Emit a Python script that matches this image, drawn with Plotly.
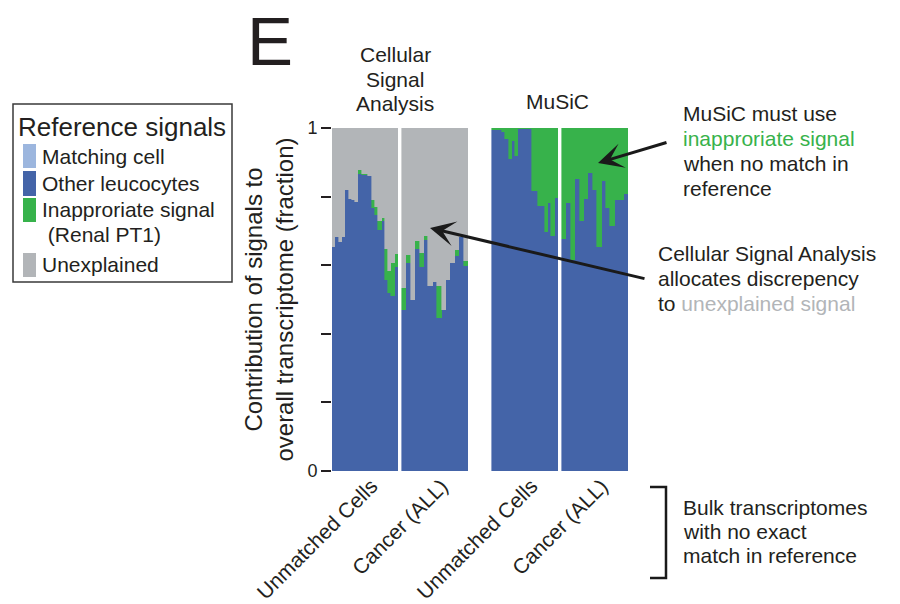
import plotly.graph_objects as go

# ---------------------------------------------------------------------------
# Fraction of each bulk transcriptome attributed to each reference signal
# ---------------------------------------------------------------------------
sample_sets = ["Unmatched Cells", "Cancer (ALL)"]
method_titles = [["Cellular", "Signal", "Analysis"], ["MuSiC"]]

# Cellular Signal Analysis
csa_unmatched_leucocytes = [0.654, 0.683, 0.669, 0.682, 0.818, 0.794, 0.789, 0.783, 0.867, 0.864,
                            0.864, 0.861, 0.768, 0.747, 0.703, 0.730, 0.557, 0.518, 0.511, 0.596]
csa_unmatched_renal = [0.0, 0.0, 0.0, 0.0, 0.0, 0.0, 0.0, 0.0, 0.011, 0.003,
                       0.003, 0.0, 0.023, 0.022, 0.026, 0.008, 0.091, 0.065, 0.095, 0.037]
csa_unmatched_unexplained = [0.346, 0.317, 0.331, 0.318, 0.182, 0.206, 0.211, 0.217, 0.122, 0.133,
                             0.133, 0.139, 0.209, 0.231, 0.271, 0.262, 0.352, 0.417, 0.394, 0.367]

csa_cancer_leucocytes = [0.469, 0.606, 0.499, 0.648, 0.596, 0.674, 0.540, 0.551, 0.447, 0.469,
                         0.557, 0.607, 0.628, 0.682, 0.599]
csa_cancer_renal = [0.066, 0.024, 0.0, 0.023, 0.041, 0.010, 0.0, 0.0, 0.093, 0.0,
                    0.0, 0.0, 0.017, 0.0, 0.014]
csa_cancer_unexplained = [0.465, 0.370, 0.501, 0.329, 0.363, 0.316, 0.460, 0.449, 0.460, 0.531,
                          0.443, 0.393, 0.355, 0.318, 0.387]

# MuSiC (no unexplained component)
music_unmatched_leucocytes = [0.993, 0.993, 0.993, 0.987, 0.968, 0.910, 0.963, 0.917, 0.998, 0.998,
                              0.998, 0.998, 0.815, 0.815, 0.773, 0.773, 0.698, 0.781, 0.686, 0.797]
music_unmatched_renal = [0.007, 0.007, 0.007, 0.013, 0.032, 0.090, 0.037, 0.083, 0.002, 0.002,
                         0.002, 0.002, 0.185, 0.185, 0.227, 0.227, 0.302, 0.219, 0.314, 0.203]

music_cancer_leucocytes = [0.676, 0.781, 0.615, 0.852, 0.730, 0.793, 0.870, 0.820, 0.654, 0.846,
                           0.768, 0.713, 0.791, 0.789, 0.808]
music_cancer_renal = [0.324, 0.219, 0.385, 0.148, 0.270, 0.207, 0.130, 0.180, 0.346, 0.154,
                      0.232, 0.287, 0.209, 0.211, 0.192]

legend_labels = ["Matching cell", "Other leucocytes", "Inapproriate signal", "Unexplained"]
legend_sublabels = ["", "", "(Renal PT1)", ""]

y_tick_values = [0, 0.2, 0.4, 0.6, 0.8, 1]
y_tick_text = ["0", "", "", "", "", "1"]

# ---------------------------------------------------------------------------
# Styling
# ---------------------------------------------------------------------------
LIGHT_BLUE = "#9cb6de"
BLUE = "#4464a8"
GREEN = "#37b24b"
GRAY = "#b2b5b8"
INK = "#231f20"
FONT = "Liberation Sans, Arial, Helvetica, sans-serif"
legend_colors = [LIGHT_BLUE, BLUE, GREEN, GRAY]

FIG_W, FIG_H = 900, 604
M_L, M_R, M_T, M_B = 332, 272, 128, 133
PLOT_W = FIG_W - M_L - M_R
PLOT_H = FIG_H - M_T - M_B

# x axis is measured in screen-like units: each sample group is GROUP_W wide
GROUP_W = 66
PAIR_GAP = 4
METHOD_GAP = 24


def px(xp):
    """page pixel column -> paper x"""
    return (xp - M_L) / PLOT_W


def py(yp):
    """page pixel row -> paper y"""
    return (FIG_H - M_B - yp) / PLOT_H


groups = [
    dict(leuco=csa_unmatched_leucocytes, renal=csa_unmatched_renal, unexpl=csa_unmatched_unexplained),
    dict(leuco=csa_cancer_leucocytes, renal=csa_cancer_renal, unexpl=csa_cancer_unexplained),
    dict(leuco=music_unmatched_leucocytes, renal=music_unmatched_renal, unexpl=None),
    dict(leuco=music_cancer_leucocytes, renal=music_cancer_renal, unexpl=None),
]

# place groups: two sample sets per method, wider gap between methods
start = 0.0
for m in range(2):
    for s in range(2):
        g = groups[m * 2 + s]
        g["start"] = start
        g["label"] = sample_sets[s]
        start += GROUP_W + PAIR_GAP
    start += METHOD_GAP - PAIR_GAP
X_MAX = start - METHOD_GAP

for g in groups:
    n = len(g["leuco"])
    w = GROUP_W / n
    g["x"] = [g["start"] + (i + 0.5) * w for i in range(n)]
    g["w"] = [w] * n
    g["center"] = g["start"] + GROUP_W / 2

fig = go.Figure()


def add_layer(values_key, color, name):
    xs, ws, ys = [], [], []
    for g in groups:
        if g[values_key] is None:
            continue
        xs += g["x"]
        ws += g["w"]
        ys += g[values_key]
    fig.add_trace(go.Bar(
        x=xs, y=ys, width=ws, name=name, showlegend=False,
        marker=dict(color=color, line=dict(color=color, width=0.6)),
    ))


add_layer("leuco", BLUE, "Other leucocytes")
add_layer("renal", GREEN, "Inapproriate signal (Renal PT1)")
add_layer("unexpl", GRAY, "Unexplained")

annotations = []
shapes = []


def text(x, y, s, size=21, color=INK, xanchor="left", **kw):
    annotations.append(dict(
        x=x, y=y, xref="paper", yref="paper", text=s, showarrow=False,
        xanchor=xanchor, yanchor="middle", font=dict(family=FONT, size=size, color=color), **kw))


# panel letter
text(px(270), py(41), "E", size=69, xanchor="center")

# method headings
for i, line in enumerate(method_titles[0]):
    text(px(395), py(55 + 24 * i), line, xanchor="center")
text(px(557), py(101), method_titles[1][0], xanchor="center")

# rotated sample-set labels under each group
for g in groups:
    annotations.append(dict(
        x=g["center"], y=0, xref="x", yref="paper", text=g["label"], showarrow=False,
        textangle=-45, xanchor="right", yanchor="top", xshift=20, yshift=0,
        font=dict(family=FONT, size=21, color=INK)))

# legend box
shapes.append(dict(type="rect", xref="paper", yref="paper",
                   x0=px(13), x1=px(232), y0=py(282), y1=py(104),
                   line=dict(color="#3a3a3a", width=1.5), fillcolor="white", layer="above"))
text(px(16), py(127), "Reference signals", size=26)
swatch_rows = [(144, 168), (171, 196), (198, 222), (253, 277)]
label_rows = [156, 183, 209, 264]
for (top, bot), lab, sub, col, ly in zip(swatch_rows, legend_labels, legend_sublabels, legend_colors, label_rows):
    shapes.append(dict(type="rect", xref="paper", yref="paper",
                       x0=px(23), x1=px(36), y0=py(bot), y1=py(top),
                       line=dict(width=0), fillcolor=col, layer="above"))
    text(px(40), py(ly), lab, size=21)
    if sub:
        text(px(40), py(ly + 25), "\u00a0" + sub, size=21)

# call-outs
text(px(681), py(113), "MuSiC must use")
text(px(681), py(138), "inapproriate signal", color=GREEN)
text(px(681), py(163), "when no match in")
text(px(681), py(188), "reference")

text(px(656), py(253), "Cellular Signal Analysis")
text(px(656), py(278), "allocates discrepency")
text(px(656), py(303), "to <span style='color:%s'>unexplained signal</span>" % GRAY)

# arrows
for tip, tail in [((598, 163), (668, 142)), ((430, 228), (646, 279))]:
    annotations.append(dict(
        x=px(tip[0]), y=py(tip[1]), xref="paper", yref="paper", text="",
        showarrow=True, arrowhead=3, arrowsize=1.4, arrowwidth=3, arrowcolor="#1a1a1a",
        ax=tail[0] - tip[0], ay=tail[1] - tip[1]))

# bracket for the bulk transcriptome groups
shapes.append(dict(type="path", xref="paper", yref="paper",
                   path="M %f %f L %f %f L %f %f L %f %f" % (
                       px(650), py(487), px(666), py(487), px(666), py(578), px(650), py(578)),
                   line=dict(color="#1a1a1a", width=2.5)))
text(px(681), py(507), "Bulk transcriptomes")
text(px(681), py(531), "with no exact")
text(px(681), py(555), "match in reference")

fig.update_layout(
    width=FIG_W, height=FIG_H,
    margin=dict(l=M_L, r=M_R, t=M_T, b=M_B, autoexpand=False),
    paper_bgcolor="white", plot_bgcolor="white",
    barmode="stack", bargap=0,
    font=dict(family=FONT, color=INK),
    showlegend=False,
    xaxis=dict(range=[0, X_MAX], visible=False, fixedrange=True),
    yaxis=dict(
        range=[0, 1], tickvals=y_tick_values, ticktext=y_tick_text,
        ticks="outside", ticklen=10, tickwidth=1.5, tickcolor=INK,
        showline=False, showgrid=False, zeroline=False,
        tickfont=dict(family=FONT, size=18, color=INK),
        title=dict(text="Contribution of signals to<br>overall transcriptome (fraction)",
                   font=dict(family=FONT, size=24, color=INK), standoff=6),
        fixedrange=True,
    ),
    annotations=annotations,
    shapes=shapes,
)

fig.write_html("out.html")
